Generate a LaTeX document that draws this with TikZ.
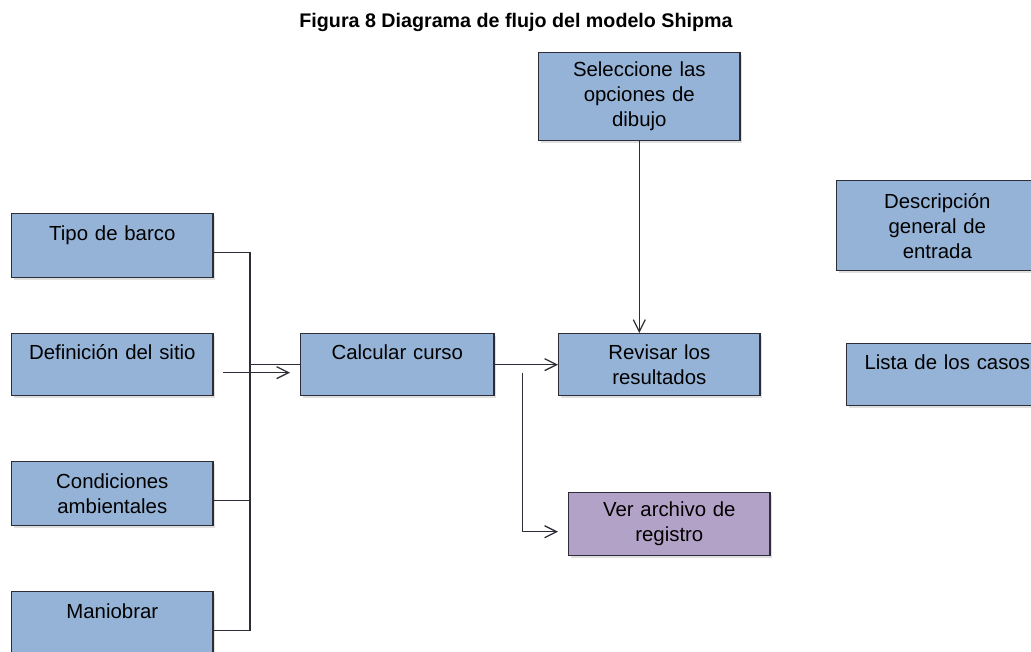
\documentclass[tikz,border=0pt]{standalone}
\usepackage{fontspec}
\setmainfont{Liberation Sans}
\usetikzlibrary{arrows.meta,calc,shadows}
\definecolor{azulcaja}{RGB}{149,179,215}
\definecolor{lilacaja}{RGB}{179,162,199}
\definecolor{bordecaja}{RGB}{45,45,55}
\tikzset{
	caja/.style={draw=bordecaja,fill=azulcaja,line width=.9pt,anchor=north west,minimum width=5cm,text width=4.8cm,align=center,inner ysep=2mm,font=\fontsize{14.5}{17.8}\selectfont,drop shadow={shadow xshift=.5mm,shadow yshift=-.5mm,opacity=.25}},
	enlace/.style={line width=.9pt,bordecaja},
	flecha/.style={enlace,-{Straight Barb[length=3mm,width=3mm]}},
}
\begin{document}
\begin{tikzpicture}
	\useasboundingbox (0,0) rectangle (25.775,-16.275);
	\clip (0,0) rectangle (25.775,-16.275);
	\node[font=\bfseries\fontsize{14}{17}\selectfont] (titulo) at (12.9,-.55) {Figura 8 Diagrama de flujo del modelo Shipma};
	% entradas
	\node[caja,minimum height=1.6cm] (tipo) at (.275,-5.325) {Tipo de barco\\\mbox{}};
	\node[caja,minimum height=1.55cm] (sitio) at (.275,-8.325) {Definición del sitio\\\mbox{}};
	\node[caja,minimum height=1.6cm] (condic) at (.275,-11.525) {Condiciones\\ambientales};
	\node[caja,minimum height=1.6cm] (maniobrar) at (.275,-14.775) {Maniobrar\\\mbox{}};
	% proceso
	\node[caja,minimum width=4.775cm,text width=4.6cm,minimum height=1.55cm] (calcular) at (7.5,-8.325) {Calcular curso\\\mbox{}};
	\node[caja,minimum height=1.55cm] (revisar) at (13.95,-8.325) {Revisar los\\resultados};
	\node[caja,fill=lilacaja,minimum height=1.575cm] (registro) at (14.2,-12.3) {Ver archivo de\\registro};
	\node[caja,minimum height=2.2cm] (opciones) at (13.45,-1.3) {Seleccione las\\opciones de\\dibujo};
	\node[caja,minimum height=2.25cm] (descripcion) at (20.9,-4.5) {Descripción\\general de\\entrada};
	\node[caja,minimum height=1.55cm] (casos) at (21.15,-8.575) {Lista de los casos\\\mbox{}};
	% conexiones
	\coordinate (bus) at (6.25,0);
	\draw[enlace] ([yshift=-1.8mm]tipo.east) -- ([yshift=-1.8mm]tipo.east -| bus) -- ([yshift=-1.8mm]maniobrar.east -| bus) -- ([yshift=-1.8mm]maniobrar.east);
	\draw[enlace] ([yshift=-1.8mm]condic.east) -- ([yshift=-1.8mm]condic.east -| bus);
	\draw[enlace] (calcular.west) -- (calcular.west -| bus);
	\draw[flecha] ([xshift=2.3mm,yshift=-2mm]sitio.east) -- ([xshift=-2.5mm,yshift=-2mm]calcular.west);
	\draw[flecha] (calcular.east) -- (revisar.west);
	\coordinate (rama) at ([xshift=7mm,yshift=-2mm]calcular.east);
	\draw[flecha] (rama) |- ([xshift=-2.5mm,yshift=-1.9mm]registro.west);
	\draw[flecha] (opciones.south) -- (opciones.south |- revisar.north);
\end{tikzpicture}
\end{document}
